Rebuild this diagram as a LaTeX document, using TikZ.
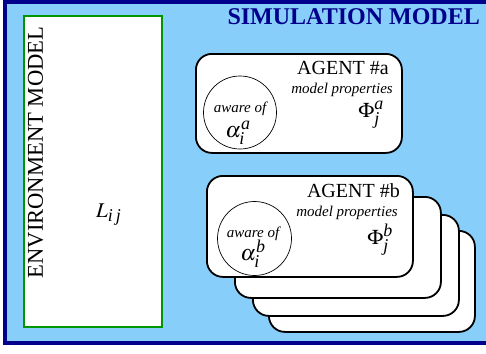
\documentclass[tikz,border=0pt]{standalone}
\usepackage{mathptmx}
\usepackage[no-math]{fontspec}
\setmainfont{Liberation Serif}
\newcommand{\agscript}[1]{\mbox{\fontsize{18}{18}\selectfont\itshape #1}}

\definecolor{simblue}{RGB}{135,206,250}
\definecolor{simnavy}{RGB}{0,0,140}
\definecolor{envgreen}{RGB}{0,150,0}

\tikzset{
  agentbox/.style={draw=black, fill=white, line width=1.8pt, rounded corners=16pt,
    minimum width=206pt, minimum height=101pt, anchor=north west, inner sep=0pt},
  awarecircle/.style={draw=black, fill=white, line width=0.7pt, circle,
    minimum size=73pt, inner sep=0pt},
  smalltext/.style={font=\fontsize{15}{17}\selectfont\itshape, inner sep=0pt},
  agenttext/.style={font=\fontsize{20}{22}\selectfont, inner sep=0pt},
  mathtext/.style={font=\fontsize{21}{24}\selectfont, inner sep=0pt},
  greektext/.style={font=\fontsize{22}{24}\selectfont, inner sep=0pt},
}

\begin{document}
\begin{tikzpicture}[x=1pt,y=-1pt]
  \useasboundingbox (0,0) rectangle (486,353);
  \clip (0,0) rectangle (486,353);
  % simulation frame
  \draw [draw=simnavy, fill=simblue, line width=4pt] (5,2) rectangle (496,343);
  \node [anchor=base east, inner sep=0pt, text=simnavy,
    font=\fontsize{24}{26}\selectfont\bfseries] (simlabel) at (480,25) {SIMULATION MODEL};

  % environment
  \node [draw=envgreen, fill=white, line width=2pt, anchor=north west,
    minimum width=138pt, minimum height=310pt, inner sep=0pt] (env) at (23,15.5) {};
  \node [rotate=90, inner sep=0pt, font=\fontsize{22.6}{25}\selectfont] (envlabel) at (35.5,152.5) {ENVIRONMENT MODEL};
  \node [mathtext, anchor=base west] (lij) at (96,217) {$L_{\agscript{i\,j}}$};

  % agent a
  \node [agentbox, minimum height=99pt] (agentA) at (195,53) {};
  \node [awarecircle] (circA) at (240,112.5) {};
  \node [smalltext, anchor=base] (awareA) at (240,112) {aware of};
  \node [greektext, anchor=base] (alphaA) at (238,137) {$\alpha_{\agscript{i}}^{\agscript{a}}$};
  \node [agenttext, anchor=base east] (nameA) at (389,74) {AGENT \#a};
  \node [smalltext, anchor=base east] (propA) at (393,93) {model properties};
  \node [mathtext, anchor=base east] (phiA) at (384,117) {$\Phi_{\agscript{j}}^{\agscript{a}}$};

  % stacked agents
  \node [agentbox] (agentE) at (268,230) {};
  \node [agentbox] (agentD) at (252,214) {};
  \node [agentbox] (agentC) at (234,196) {};
  \node [agentbox] (agentB) at (206,175) {};
  \node [awarecircle, minimum size=74pt] (circB) at (254.5,238.5) {};
  \node [smalltext, anchor=base] (awareB) at (253,237) {aware of};
  \node [greektext, anchor=base] (alphaB) at (253,260) {$\alpha_{\agscript{i}}^{\agscript{b}}$};
  \node [agenttext, anchor=base east] (nameB) at (400,197) {AGENT \#b};
  \node [smalltext, anchor=base east] (propB) at (398,216) {model properties};
  \node [mathtext, anchor=base east] (phiB) at (393,244) {$\Phi_{\agscript{j}}^{\agscript{b}}$};
\end{tikzpicture}
\end{document}
